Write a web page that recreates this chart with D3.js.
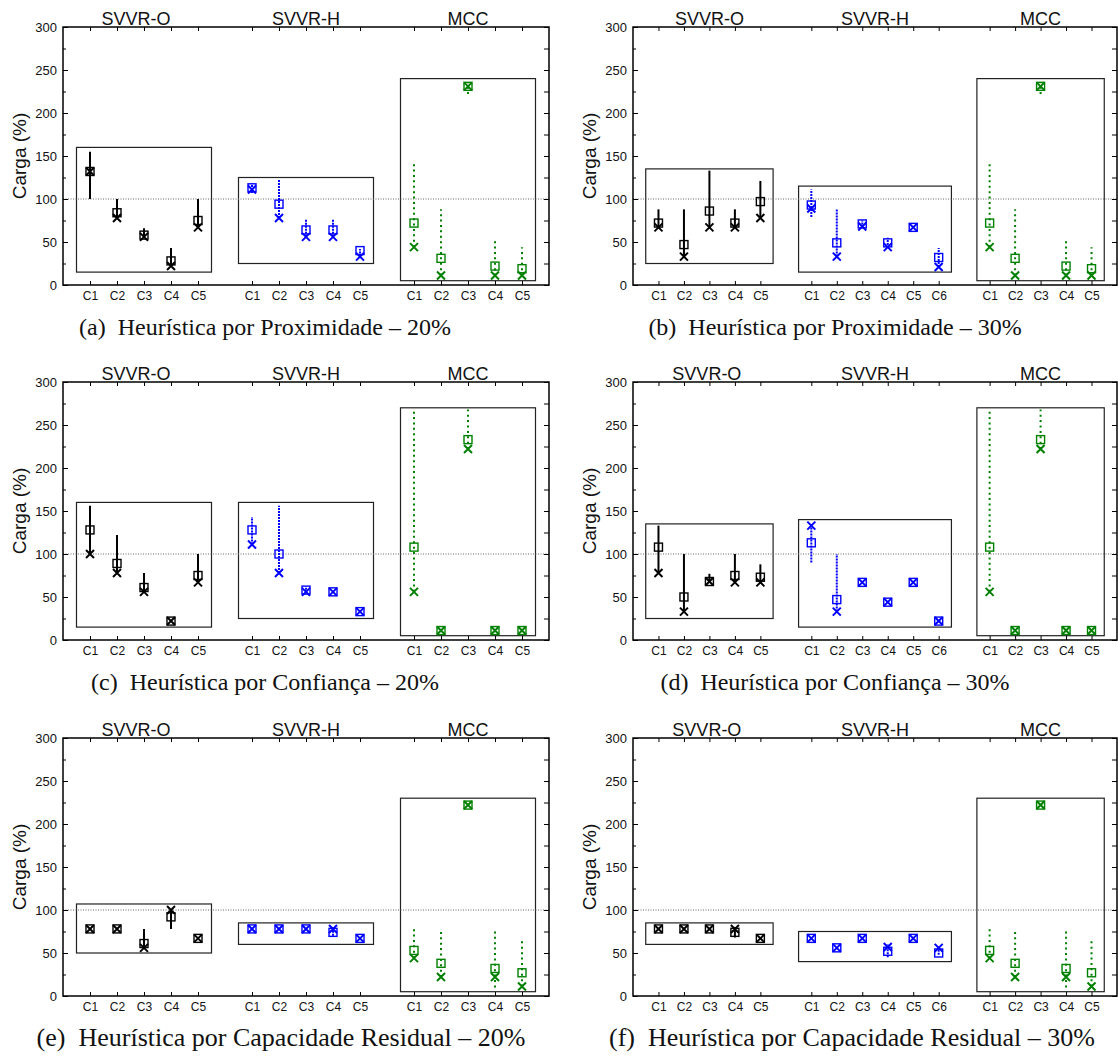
<!DOCTYPE html>
<html><head><meta charset="utf-8">
<script src="https://cdn.jsdelivr.net/npm/d3@7"></script>
<style>body{margin:0;background:#fff;} svg{display:block}</style>
</head><body>
<svg id="c" width="1118" height="1056"></svg>
<script>
// ---------------- DATA ----------------
const groupNames = ["SVVR-O", "SVVR-H", "MCC"];
const cats5 = ["C1", "C2", "C3", "C4", "C5"];
const cats6 = ["C1", "C2", "C3", "C4", "C5", "C6"];
const yTicks = [0, 50, 100, 150, 200, 250, 300];
const yMinorTicks = [25, 75, 125, 175, 225, 275];
const refValue = 100;
const captions = [
  "(a)  Heurística por Proximidade – 20%",
  "(b)  Heurística por Proximidade – 30%",
  "(c)  Heurística por Confiança – 20%",
  "(d)  Heurística por Confiança – 30%",
  "(e)  Heurística por Capacidade Residual – 20%",
  "(f)  Heurística por Capacidade Residual – 30%"
];

// each array: [SVVR-O values, SVVR-H values, MCC values]
// (a)
const a_mean  = [[132, 84, 58, 28, 75], [113, 94, 64, 64, 40], [72, 31, 231, 22, 19]];
const a_cross = [[132, 78, 56, 22, 67], [111, 78, 56, 56, 33], [44, 11, 231, 11, 11]];
const a_lo    = [[100, 78, 55, 22, 67], [107, 78, 56, 56, 33], [44, 11, 222, 11, 11]];
const a_hi    = [[155, 100, 66, 43, 100], [118, 122, 77, 77, 42], [143, 88, 235, 55, 44]];
const a_box   = [[15, 160], [25, 125], [5, 240]];
// (b)
const b_mean  = [[72, 47, 86, 72, 97], [93, 49, 71, 49, 67, 32], [72, 31, 231, 22, 19]];
const b_cross = [[67, 33, 67, 67, 78], [89, 33, 68, 44, 67, 21], [44, 11, 231, 11, 11]];
const b_lo    = [[67, 33, 67, 67, 78], [79, 33, 67, 43, 67, 21], [44, 11, 222, 11, 11]];
const b_hi    = [[88, 88, 133, 88, 121], [111, 88, 75, 55, 67, 43], [143, 88, 235, 55, 44]];
const b_box   = [[25, 135], [15, 115], [5, 240]];
// (c)
const c_mean  = [[128, 89, 61, 22, 75], [128, 100, 58, 56, 33], [108, 11, 233, 11, 11]];
const c_cross = [[100, 78, 56, 22, 67], [111, 78, 56, 56, 33], [56, 11, 222, 11, 11]];
const c_lo    = [[100, 78, 56, 22, 67], [111, 78, 55, 56, 33], [56, 11, 222, 11, 11]];
const c_hi    = [[156, 122, 78, 22, 100], [143, 156, 62, 56, 33], [268, 11, 268, 11, 11]];
const c_box   = [[15, 160], [25, 160], [5, 270]];
// (d)
const d_mean  = [[108, 50, 68, 75, 73], [113, 47, 67, 44, 67, 22], [108, 11, 233, 11, 11]];
const d_cross = [[78, 33, 68, 67, 67], [133, 33, 67, 44, 67, 22], [56, 11, 222, 11, 11]];
const d_lo    = [[78, 33, 67, 67, 67], [90, 33, 67, 44, 67, 22], [56, 11, 222, 11, 11]];
const d_hi    = [[133, 100, 77, 100, 88], [133, 100, 67, 44, 67, 22], [268, 11, 268, 11, 11]];
const d_box   = [[25, 135], [15, 140], [5, 270]];
// (e)
const e_mean  = [[78, 78, 61, 92, 67], [78, 78, 78, 74, 67], [53, 38, 222, 32, 27]];
const e_cross = [[78, 78, 56, 100, 67], [78, 78, 78, 78, 67], [44, 22, 222, 22, 11]];
const e_lo    = [[78, 78, 55, 78, 67], [78, 78, 78, 70, 67], [44, 22, 222, 10, 11]];
const e_hi    = [[78, 78, 78, 100, 67], [78, 78, 78, 80, 67], [78, 78, 222, 78, 66]];
const e_box   = [[50, 107], [60, 85], [5, 230]];
// (f)
const f_mean  = [[78, 78, 78, 74, 67], [67, 56, 67, 52, 67, 50], [53, 38, 222, 32, 27]];
const f_cross = [[78, 78, 78, 78, 67], [67, 56, 67, 57, 67, 56], [44, 22, 222, 22, 11]];
const f_lo    = [[78, 78, 78, 68, 67], [67, 56, 67, 45, 67, 48], [44, 22, 222, 10, 11]];
const f_hi    = [[78, 78, 78, 80, 67], [67, 56, 67, 60, 67, 58], [78, 78, 222, 78, 66]];
const f_box   = [[60, 85], [40, 75], [5, 230]];

const panels = [
  {cats: [cats5, cats5, cats5], mean: a_mean, cross: a_cross, lo: a_lo, hi: a_hi, box: a_box, caption: captions[0]},
  {cats: [cats5, cats6, cats5], mean: b_mean, cross: b_cross, lo: b_lo, hi: b_hi, box: b_box, caption: captions[1]},
  {cats: [cats5, cats5, cats5], mean: c_mean, cross: c_cross, lo: c_lo, hi: c_hi, box: c_box, caption: captions[2]},
  {cats: [cats5, cats6, cats5], mean: d_mean, cross: d_cross, lo: d_lo, hi: d_hi, box: d_box, caption: captions[3]},
  {cats: [cats5, cats5, cats5], mean: e_mean, cross: e_cross, lo: e_lo, hi: e_hi, box: e_box, caption: captions[4]},
  {cats: [cats5, cats6, cats5], mean: f_mean, cross: f_cross, lo: f_lo, hi: f_hi, box: f_box, caption: captions[5]}
];

// ---------------- LAYOUT / STYLE ----------------
const layout = {colX: [63, 633], colW: [486, 484], rowY: [27, 382, 738], h: 258,
  titleShift: [-0.3, 0, -0.3, -0.1, -0.3, -0.1],
  captionDx: [-41, -40, -41, -40, -25, -23], captionDy: 50,
  captionSize: [24, 24, 24, 24, 26, 26]};
const colors = ["#000000", "#0000ff", "#008000"];
const dashes = [null, "2,1", "2,3.4"];
const SANS = "'Liberation Sans', Arial, Helvetica, sans-serif";
const SERIF = "'Liberation Serif', 'Times New Roman', serif";

const svg = d3.select("#c");

panels.forEach((p, i) => {
  const col = i % 2, row = Math.floor(i / 2);
  const x0 = layout.colX[col], w = layout.colW[col], y0 = layout.rowY[row], h = layout.h;
  const g = svg.append("g").attr("transform", `translate(${x0},${y0})`);

  // slot positions
  const pos = [];
  let start = 1;
  p.cats.forEach(c => { pos.push(c.map((_, k) => start + k)); start += c.length + 1; });
  const xMax = start - 1;
  const x = d3.scaleLinear().domain([0, xMax]).range([0, w]);
  const y = d3.scaleLinear().domain([0, 300]).range([h, 0]);

  // group boxes
  p.cats.forEach((c, gi) => {
    const x1 = x(pos[gi][0] - 0.5), x2 = x(pos[gi][c.length - 1] + 0.5);
    g.append("rect").attr("x", x1).attr("y", y(p.box[gi][1]))
      .attr("width", x2 - x1).attr("height", y(p.box[gi][0]) - y(p.box[gi][1]))
      .attr("fill", "none").attr("stroke", "#222").attr("stroke-width", 1.2);
  });

  // reference line
  g.append("line").attr("x1", 0).attr("x2", w).attr("y1", y(refValue)).attr("y2", y(refValue))
    .attr("stroke", "#666").attr("stroke-width", 1).attr("stroke-dasharray", "1,1.5");

  // marks
  p.cats.forEach((c, gi) => {
    const col = colors[gi];
    const pts = c.map((_, k) => ({px: pos[gi][k], m: p.mean[gi][k], cr: p.cross[gi][k], lo: p.lo[gi][k], hi: p.hi[gi][k]}));
    const gg = g.append("g");
    gg.selectAll("line.err").data(pts.filter(d => d.hi > d.lo)).join("line")
      .attr("x1", d => x(d.px)).attr("x2", d => x(d.px))
      .attr("y1", d => y(d.lo)).attr("y2", d => y(d.hi))
      .attr("stroke", col).attr("stroke-width", 2)
      .attr("stroke-dasharray", dashes[gi]);
    gg.selectAll("rect.sq").data(pts).join("rect")
      .attr("x", d => x(d.px) - 4).attr("y", d => y(d.m) - 4)
      .attr("width", 8).attr("height", 8)
      .attr("fill", "none").attr("stroke", col).attr("stroke-width", 1.4);
    gg.selectAll("path.cr").data(pts).join("path")
      .attr("d", d => { const cx = x(d.px), cy = y(d.cr), s = 4;
        return `M${cx - s},${cy - s}L${cx + s},${cy + s}M${cx - s},${cy + s}L${cx + s},${cy - s}`; })
      .attr("stroke", col).attr("stroke-width", 2).attr("fill", "none");
  });

  // axes
  const allPos = pos.flat();
  const allLab = p.cats.flat();
  const labelOf = d3.scaleOrdinal().domain(allPos).range(allLab);

  const styleAxis = sel => { sel.select(".domain").remove(); sel.selectAll("line").attr("stroke", "#000").attr("stroke-width", 1); };

  g.append("g").call(d3.axisLeft(y).tickValues(yTicks).tickSize(-5).tickPadding(6))
    .call(styleAxis)
    .call(s => s.selectAll("text").attr("x", -6).attr("font-family", SANS).attr("font-size", 13).attr("fill", "#111"));
  g.append("g").call(d3.axisLeft(y).tickValues(yMinorTicks).tickSize(-3).tickFormat(""))
    .call(styleAxis);
  g.append("g").attr("transform", `translate(${w},0)`)
    .call(d3.axisRight(y).tickValues(yTicks.concat(yMinorTicks)).tickSize(-5).tickFormat(""))
    .call(styleAxis);
  g.append("g").attr("transform", `translate(0,${h})`)
    .call(d3.axisBottom(x).tickValues(allPos).tickSize(-4).tickFormat(d => labelOf(d)))
    .call(styleAxis)
    .call(s => s.selectAll("text").attr("y", 15).attr("dy", null)
      .attr("font-family", SANS).attr("font-size", 12).attr("fill", "#111"));
  g.append("g").call(d3.axisTop(x).tickValues(allPos).tickSize(-4).tickFormat(""))
    .call(styleAxis);

  // frame
  g.append("rect").attr("width", w).attr("height", h).attr("fill", "none")
    .attr("stroke", "#000").attr("stroke-width", 1.5);

  // group titles
  p.cats.forEach((c, gi) => {
    const mid = (pos[gi][0] + pos[gi][c.length - 1]) / 2 + (gi === 0 ? layout.titleShift[i] : 0);
    g.append("text").attr("x", x(mid)).attr("y", -2).attr("text-anchor", "middle")
      .attr("font-family", SANS).attr("font-size", 18).attr("fill", "#111").text(groupNames[gi]);
  });

  // y title
  g.append("text").attr("transform", `translate(-44,${h / 2}) rotate(-90)`)
    .attr("text-anchor", "middle").attr("dominant-baseline", "central")
    .attr("font-family", SANS).attr("font-size", 19).attr("fill", "#111").text("Carga (%)");

  // caption
  svg.append("text").attr("x", x0 + w / 2 + layout.captionDx[i]).attr("y", y0 + h + layout.captionDy)
    .attr("text-anchor", "middle").attr("font-family", SERIF).attr("font-size", layout.captionSize[i])
    .attr("fill", "#111").style("white-space", "pre").text(p.caption);
});
</script>
</body></html>
